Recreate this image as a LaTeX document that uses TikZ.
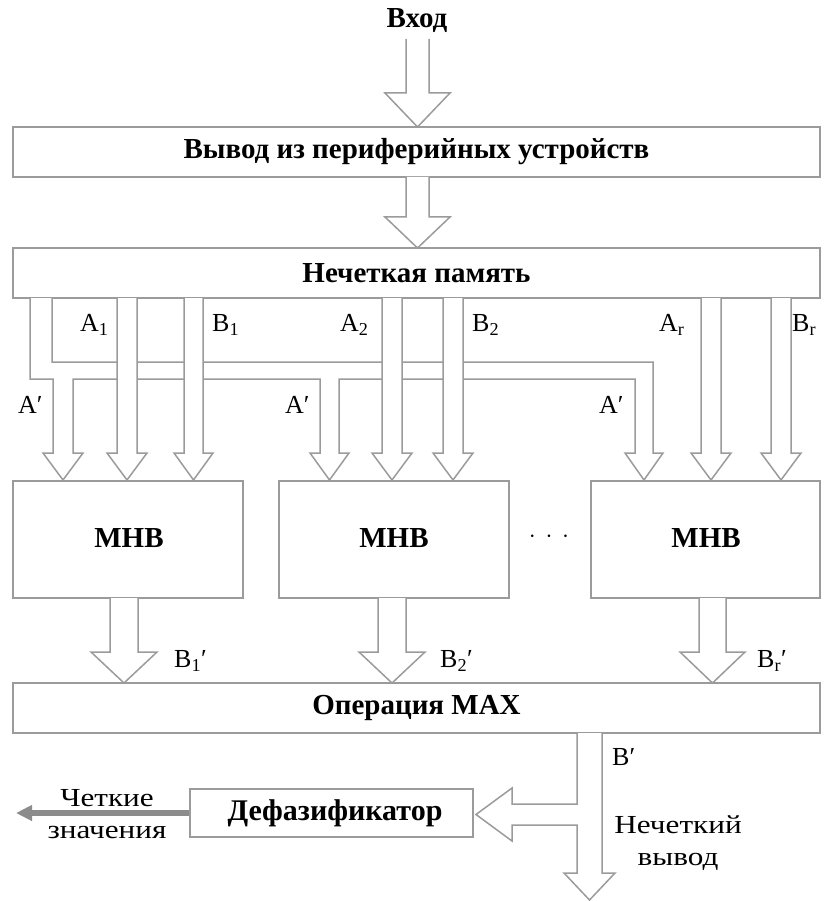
\documentclass[tikz,border=0pt]{standalone}
\usepackage{fontspec}
\usetikzlibrary{arrows.meta}
\setmainfont{Liberation Serif}
\newfontfamily\widefont[FakeStretch=1.2]{Liberation Serif}
\definecolor{lg}{RGB}{155,155,155}
\definecolor{ag}{RGB}{140,140,140}
\newcommand\varrow[6]{%
 \path[fill=white] (#1,#3) -- (#1,#4) -- ({#1-#6},#4) -- ({(#1+#2)/2},#5) -- ({#2+#6},#4) -- (#2,#4) -- (#2,#3) -- cycle;
 \draw[ln] (#1,#3) -- (#1,#4) -- ({#1-#6},#4) -- ({(#1+#2)/2},#5) -- ({#2+#6},#4) -- (#2,#4) -- (#2,#3);}
\begin{document}
\begin{tikzpicture}[x=1pt,y=-1pt,
 box/.style={draw=lg,line width=1.5pt,fill=white,inner sep=0pt},
 ln/.style={draw=lg,line width=1.5pt,line join=miter},
 bt/.style={font=\fontsize{29}{31}\selectfont\bfseries,inner sep=0pt},
 lab/.style={font=\fontsize{26}{28}\selectfont,inner sep=0pt},
 wlab/.style={font=\fontsize{26}{31.5}\selectfont\widefont,inner sep=0pt,align=center}]
\useasboundingbox (0,0) rectangle (824,901);
% boxes
\node[box,minimum width=807,minimum height=50] (per) at (416.5,152) {};
\node[box,minimum width=807,minimum height=50] (mem) at (416.5,273) {};
\node[box,minimum width=230,minimum height=117] (m1) at (128,539.5) {};
\node[box,minimum width=230,minimum height=117] (m2) at (394,539.5) {};
\node[box,minimum width=229,minimum height=117] (m3) at (705.5,539.5) {};
\node[box,minimum width=807,minimum height=50] (max) at (416.5,708) {};
\node[box,minimum width=283,minimum height=48] (def) at (331.5,813) {};
% texts
\node[bt] (tin) at (417,21) {Вход};
\node[bt] at (per) {Вывод из периферийных устройств};
\node[bt] at (mem) {Нечеткая память};
\node[bt] at (129,538) {МНВ};
\node[bt] at (394,538) {МНВ};
\node[bt] at (706,538) {МНВ};
\node[bt] at (max) {Операция MAX};
\node[font=\fontsize{30}{32}\selectfont\bfseries,inner sep=0pt] at (335,813) {Дефазификатор};
\node[font=\fontsize{30}{32}\selectfont\bfseries,inner sep=0pt] (dots) at (549,537) {$\cdot\,\cdot\,\cdot$};
% top arrows
\varrow{406}{429}{39}{93}{127}{21}
\varrow{406}{429}{177}{217}{248}{21}
% A' bus
\path[fill=white] (52,298) -- (52,362) -- (653,362) -- (653,453) -- (663,453) -- (644,480) -- (625,453) -- (635,453) -- (635,379) -- (339,379) -- (339,453) -- (349,453) -- (329.5,480) -- (310,453) -- (320,453) -- (320,379) -- (73,379) -- (73,453) -- (83,453) -- (63,480) -- (43,453) -- (53,453) -- (53,379) -- (30,379) -- (30,298) -- cycle;
\draw[ln] (52,298) -- (52,362) -- (653,362) -- (653,453) -- (663,453) -- (644,480) -- (625,453) -- (635,453) -- (635,379) -- (339,379) -- (339,453) -- (349,453) -- (329.5,480) -- (310,453) -- (320,453) -- (320,379) -- (73,379) -- (73,453) -- (83,453) -- (63,480) -- (43,453) -- (53,453) -- (53,379) -- (30,379) -- (30,298);
% A/B arrows
\varrow{117}{137}{298}{453}{480}{10}
\varrow{184}{203}{298}{453}{480}{10}
\varrow{382}{402}{298}{453}{480}{10}
\varrow{443}{463}{298}{453}{480}{10}
\varrow{701}{721}{298}{453}{480}{10}
\varrow{771}{791}{298}{453}{480}{10}
% output arrows
\varrow{110}{138}{598}{652}{683}{19}
\varrow{378}{406}{598}{652}{683}{19}
\varrow{699}{726}{598}{652}{683}{19}
% B' arrow
\path[fill=white] (577,733) -- (577,804) -- (512,804) -- (512,788) -- (476,814.5) -- (512,841) -- (512,825) -- (577,825) -- (577,873) -- (564,873) -- (589.5,900) -- (615,873) -- (602,873) -- (602,733) -- cycle;
\draw[ln] (577,733) -- (577,804) -- (512,804) -- (512,788) -- (476,814.5) -- (512,841) -- (512,825) -- (577,825) -- (577,873) -- (564,873) -- (589.5,900) -- (615,873) -- (602,873) -- (602,733);
% crisp output
\coordinate (out) at (16,813);
\draw[ag,line width=6pt,-{Triangle[length=16pt,width=15pt]}] (def.west |- out) -- (out);
% labels
\node[lab,anchor=west] at (80,325) {A\textsubscript{1}};
\node[lab,anchor=west] at (212,325) {B\textsubscript{1}};
\node[lab,anchor=west] at (340,325) {A\textsubscript{2}};
\node[lab,anchor=west] at (472,325) {B\textsubscript{2}};
\node[lab,anchor=west] at (659,325) {A\textsubscript{r}};
\node[lab,anchor=west] at (792,325) {B\textsubscript{r}};
\node[lab,anchor=west] at (18,405) {A′};
\node[lab,anchor=west] at (285,405) {A′};
\node[lab,anchor=west] at (599,405) {A′};
\node[lab,anchor=west] at (174,661) {B\textsubscript{1}′};
\node[lab,anchor=west] at (440,661) {B\textsubscript{2}′};
\node[lab,anchor=west] at (757,661) {B\textsubscript{r}′};
\node[lab,anchor=west] at (612,757) {B′};
\node[wlab] at (678,843) {Нечеткий\\вывод};
\node[wlab] at (107,814) {Четкие\\значения};
\end{tikzpicture}
\end{document}
